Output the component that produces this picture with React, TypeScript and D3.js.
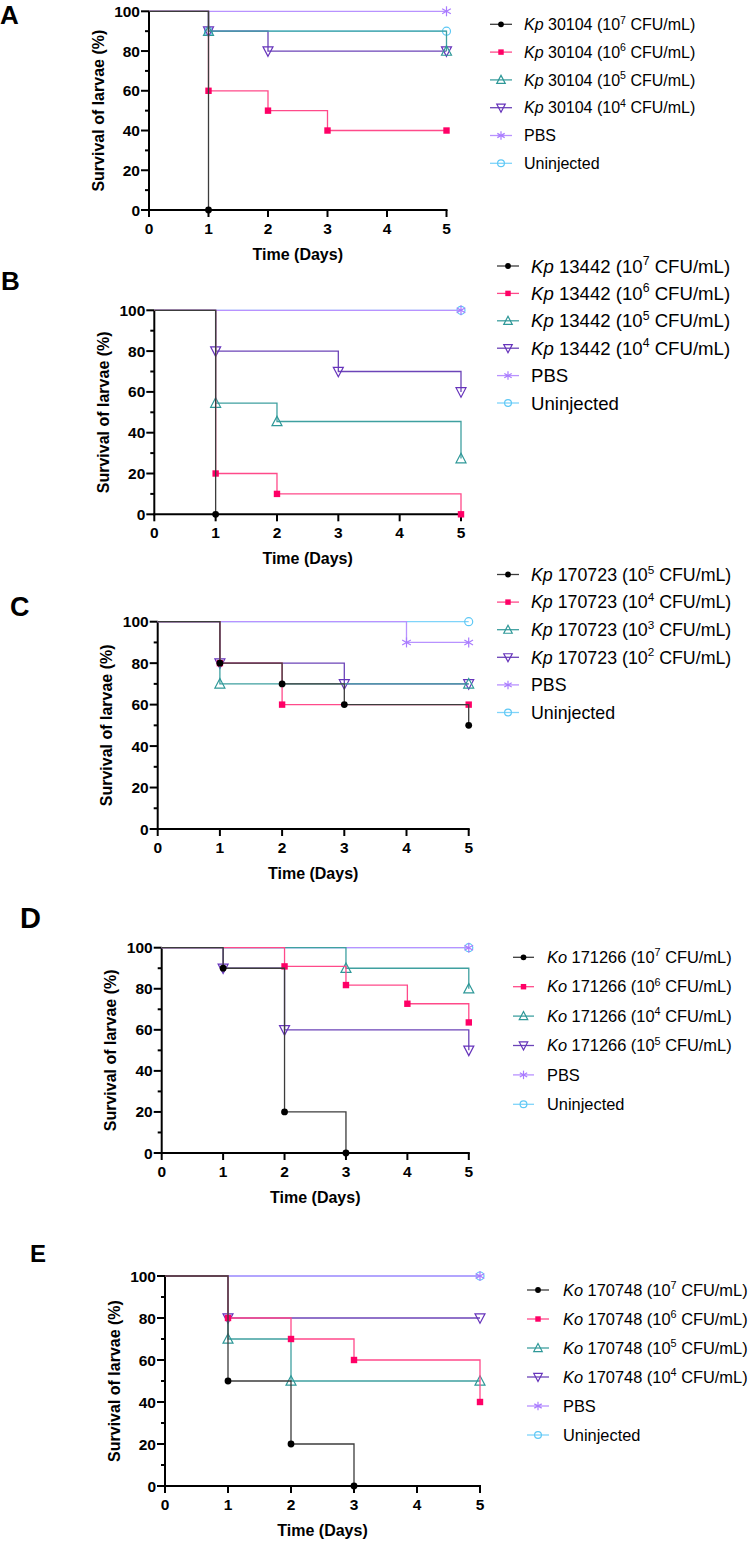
import React from "react";
import * as d3 from "d3";

// ---------- DATA ----------
const panelLetters = ["A", "B", "C", "D", "E"];
const speciesNames = ["Kp", "Kp", "Kp", "Ko", "Ko"];
const strainNames = ["30104", "13442", "170723", "171266", "170748"];
const doseExponents = [
  [7, 6, 5, 4],
  [7, 6, 5, 4],
  [5, 4, 3, 2],
  [7, 6, 4, 5],
  [7, 6, 5, 4],
];
const controlLabels = ["PBS", "Uninjected"];
const xTicks = [0, 1, 2, 3, 4, 5];
const yMajorTicks = [0, 20, 40, 60, 80, 100];
const yMinorTicks = [10, 30, 50, 70, 90];
const xAxisTitle = "Time (Days)";
const yAxisTitle = "Survival of larvae (%)";

// series order per panel: dose1, dose2, dose3, dose4, PBS, Uninjected
const timesA = [[0, 1], [0, 1, 2, 3, 5], [0, 1, 5], [0, 1, 2, 5], [0, 5], [0, 1, 5]];
const survA = [[100, 0], [100, 60, 50, 40, 40], [100, 90, 80], [100, 90, 80, 80], [100, 100], [100, 90, 90]];

const timesB = [[0, 1], [0, 1, 2, 5], [0, 1, 2, 5], [0, 1, 3, 5], [0, 5], [0, 5]];
const survB = [[100, 0], [100, 20, 10, 0], [100, 54.5, 45.5, 27.3], [100, 80, 70, 60], [100, 100], [100, 100]];

const timesC = [[0, 1, 2, 3, 5], [0, 1, 2, 5], [0, 1, 5], [0, 1, 3, 5], [0, 4, 5], [0, 5]];
const survC = [[100, 80, 70, 60, 50], [100, 80, 60, 60], [100, 70, 70], [100, 80, 70, 70], [100, 90, 90], [100, 100]];

const timesD = [[0, 1, 2, 3], [0, 2, 3, 4, 5], [0, 3, 5], [0, 1, 2, 5], [0, 5], [0, 5]];
const survD = [[100, 90, 20, 0], [100, 90.9, 81.8, 72.7, 63.6], [100, 90, 80], [100, 90, 60, 50], [100, 100], [100, 100]];

const timesE = [[0, 1, 2, 3], [0, 1, 2, 3, 5], [0, 1, 2, 5], [0, 1, 5], [0, 5], [0, 5]];
const survE = [[100, 50, 20, 0], [100, 80, 70, 60, 40], [100, 70, 50, 50], [100, 80, 80], [100, 100], [100, 100]];

const panelTimes = [timesA, timesB, timesC, timesD, timesE];
const panelSurv = [survA, survB, survC, survD, survE];

// ---------- STYLE ----------
const FONT = "'Liberation Sans', Arial, Helvetica, sans-serif";
const markerColors = ["#000000", "#FF0066", "#2E9898", "#6633BB", "#A97BFF", "#5EC8F5"];
const lineColors = ["#3c3c3c", "#FF4A8A", "#3FA0A0", "#6C44B8", "#B892FF", "#7FD4FA"];
const markerTypes = ["circle", "square", "triUp", "triDown", "star", "ocircle"];

const layouts = [
  { x0: 149, x1: 446.5, yTop: 11.3, yBot: 210, letterX: 0, letterY: 23.5, letterSize: 26, legX: 490, legW: 22, legTextX: 524, legY: 24.3, legDy: 27.8, legFont: 16 },
  { x0: 154.3, x1: 461, yTop: 310.3, yBot: 514.3, letterX: 1, letterY: 290, letterSize: 26, legX: 497, legW: 22, legTextX: 531, legY: 266, legDy: 27.4, legFont: 18.6 },
  { x0: 157.7, x1: 468.7, yTop: 621.7, yBot: 829, letterX: 10, letterY: 616, letterSize: 27, legX: 497, legW: 22, legTextX: 531, legY: 574.5, legDy: 27.6, legFont: 17.8 },
  { x0: 161.7, x1: 468.8, yTop: 947.7, yBot: 1153, letterX: 20, letterY: 928, letterSize: 29, legX: 513, legW: 21, legTextX: 547, legY: 957.3, legDy: 29.4, legFont: 16.4 },
  { x0: 165, x1: 480, yTop: 1276, yBot: 1486, letterX: 30, letterY: 1262, letterSize: 24, legX: 527, legW: 22, legTextX: 563, legY: 1290, legDy: 29, legFont: 16.4 },
];

function Marker({ type, x, y, color, s = 1 }: { type: string; x: number; y: number; color: string; s?: number }) {
  if (type === "circle") return <circle cx={x} cy={y} r={3.4 * s} fill={color} />;
  if (type === "square") return <rect x={x - 3.2 * s} y={y - 3.2 * s} width={6.4 * s} height={6.4 * s} fill={color} />;
  if (type === "triUp") {
    const p = `${x},${y - 5.3 * s} ${x + 5 * s},${y + 4.2 * s} ${x - 5 * s},${y + 4.2 * s}`;
    return <polygon points={p} fill="none" stroke={color} strokeWidth={1.2} />;
  }
  if (type === "triDown") {
    const p = `${x},${y + 5.3 * s} ${x + 5 * s},${y - 4.2 * s} ${x - 5 * s},${y - 4.2 * s}`;
    return <polygon points={p} fill="none" stroke={color} strokeWidth={1.2} />;
  }
  if (type === "star") {
    const r = 5 * s;
    const a = r * Math.cos(Math.PI / 6);
    const b = r * Math.sin(Math.PI / 6);
    return (
      <g stroke={color} strokeWidth={1.2}>
        <line x1={x} y1={y - r} x2={x} y2={y + r} />
        <line x1={x - a} y1={y - b} x2={x + a} y2={y + b} />
        <line x1={x - a} y1={y + b} x2={x + a} y2={y - b} />
      </g>
    );
  }
  return <circle cx={x} cy={y} r={4 * s} fill="none" stroke={color} strokeWidth={1.2} />;
}

function Panel({ idx }: { idx: number }) {
  const L = layouts[idx];
  const xs = d3.scaleLinear().domain([0, 5]).range([L.x0, L.x1]);
  const ys = d3.scaleLinear().domain([0, 100]).range([L.yBot, L.yTop]);
  const times = panelTimes[idx];
  const surv = panelSurv[idx];
  const line = d3
    .line<[number, number]>()
    .x((d) => xs(d[0]))
    .y((d) => ys(d[1]))
    .curve(d3.curveStepAfter);
  const order = [5, 4, 3, 2, 1, 0];
  const yMid = (L.yTop + L.yBot) / 2;
  const xMid = (L.x0 + L.x1) / 2;
  const supSize = L.legFont * 0.66;
  const supDy = L.legFont * 0.4;

  const labels = [0, 1, 2, 3].map((i) => (
    <>
      <tspan fontStyle="italic">{speciesNames[idx]}</tspan>
      {` ${strainNames[idx]} (10`}
      <tspan fontSize={supSize} dy={-supDy}>{doseExponents[idx][i]}</tspan>
      <tspan dy={supDy}>{" CFU/mL)"}</tspan>
    </>
  ));

  return (
    <g>
      <text x={L.letterX} y={L.letterY} fontSize={L.letterSize} fontWeight="bold" fontFamily={FONT}>
        {panelLetters[idx]}
      </text>
      {/* axes */}
      <g stroke="#000" strokeWidth={2} fill="none">
        <line x1={L.x0} y1={L.yTop} x2={L.x0} y2={L.yBot + 1} />
        <line x1={L.x0 - 1} y1={L.yBot} x2={L.x1 + 1} y2={L.yBot} />
        {yMajorTicks.map((t) => (
          <line key={"M" + t} x1={L.x0 - 8} x2={L.x0} y1={ys(t)} y2={ys(t)} />
        ))}
        {yMinorTicks.map((t) => (
          <line key={"m" + t} x1={L.x0 - 4} x2={L.x0} y1={ys(t)} y2={ys(t)} />
        ))}
        {xTicks.map((t) => (
          <line key={"x" + t} x1={xs(t)} x2={xs(t)} y1={L.yBot} y2={L.yBot + 7} />
        ))}
      </g>
      <g fontFamily={FONT} fontWeight="bold" fontSize={15.5} fill="#000">
        {yMajorTicks.map((t) => (
          <text key={"yl" + t} x={L.x0 - 9} y={ys(t) + 5.5} textAnchor="end">
            {t}
          </text>
        ))}
        {xTicks.map((t) => (
          <text key={"xl" + t} x={xs(t)} y={L.yBot + 24} textAnchor="middle">
            {t}
          </text>
        ))}
        <text x={xMid} y={L.yBot + 50} textAnchor="middle" fontSize={16}>
          {xAxisTitle}
        </text>
        <text transform={`translate(${L.x0 - 45.5},${yMid}) rotate(-90)`} textAnchor="middle" fontSize={16}>
          {yAxisTitle}
        </text>
      </g>
      {/* series, first drawn on top */}
      {order.map((si) => {
        const pts: [number, number][] = times[si].map((t, j) => [t, surv[si][j]]);
        return (
          <g key={"s" + si}>
            <path d={line(pts) || ""} fill="none" stroke={lineColors[si]} strokeWidth={1.3} />
            {pts.slice(1).map((p, j) => (
              <Marker key={j} type={markerTypes[si]} x={xs(p[0])} y={ys(p[1])} color={markerColors[si]} />
            ))}
          </g>
        );
      })}
      {/* legend */}
      {[0, 1, 2, 3, 4, 5].map((si) => {
        const ry = L.legY + si * L.legDy;
        return (
          <g key={"lg" + si}>
            <line x1={L.legX} x2={L.legX + L.legW} y1={ry} y2={ry} stroke={lineColors[si]} strokeWidth={1.3} />
            <Marker type={markerTypes[si]} x={L.legX + L.legW / 2} y={ry} color={markerColors[si]} s={0.85} />
            <text x={L.legTextX} y={ry + L.legFont * 0.35} fontFamily={FONT} fontSize={L.legFont} fill="#000" style={{ whiteSpace: "pre" }}>
              {si < 4 ? labels[si] : controlLabels[si - 4]}
            </text>
          </g>
        );
      })}
    </g>
  );
}

export default function App() {
  return (
    <svg
      width={754}
      height={1543}
      viewBox="0 0 754 1543"
      style={{ position: "absolute", left: 0, top: 0, background: "#fff" }}
    >
      <rect x={0} y={0} width={754} height={1543} fill="#fff" />
      {[0, 1, 2, 3, 4].map((i) => (
        <Panel key={i} idx={i} />
      ))}
    </svg>
  );
}
